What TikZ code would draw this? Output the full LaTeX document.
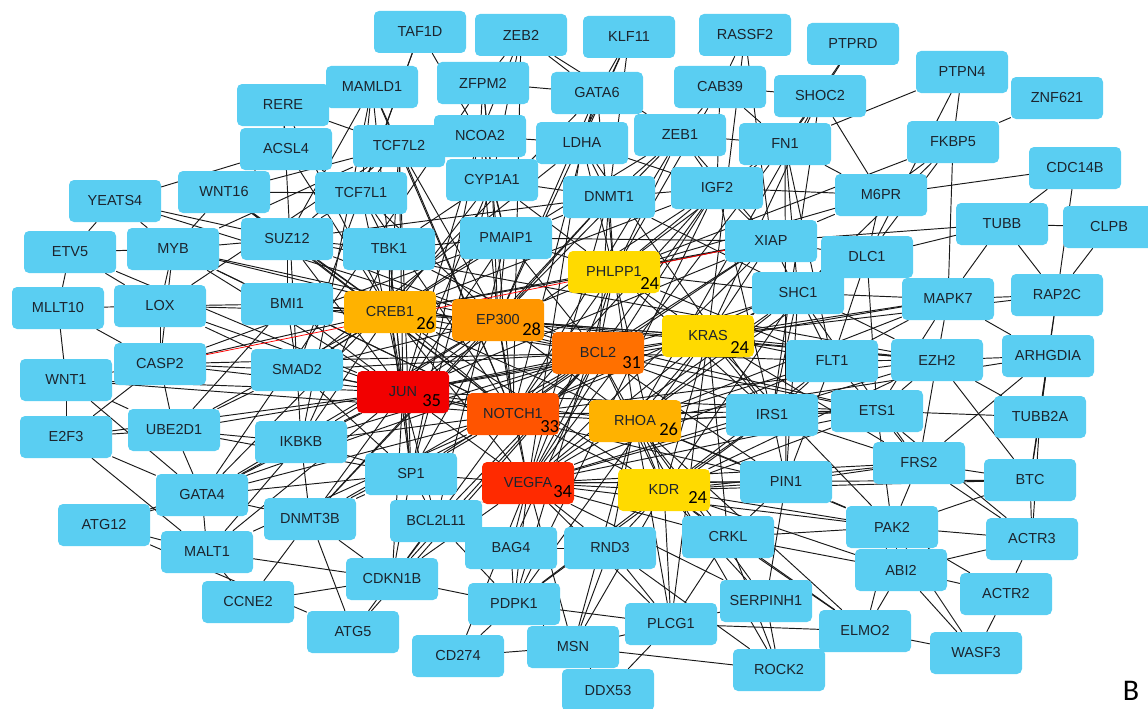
\documentclass[tikz,border=0pt]{standalone}
\usepackage{fontspec}
\setmainfont{Liberation Sans}
\newfontfamily\numfont{Carlito}
\usetikzlibrary{backgrounds}

\definecolor{geneblue}{RGB}{90,206,242}
\definecolor{genetext}{RGB}{28,36,46}
\definecolor{degA}{RGB}{242,0,0}
\definecolor{degB}{RGB}{255,42,0}
\definecolor{degC}{RGB}{255,84,0}
\definecolor{degD}{RGB}{255,112,0}
\definecolor{degE}{RGB}{255,150,0}
\definecolor{degF}{RGB}{255,178,0}
\definecolor{degG}{RGB}{255,218,0}

\begin{document}
\begin{tikzpicture}[
    x=1pt, y=-1pt,
    gene/.style={
        rectangle,
        rounded corners=5pt,
        fill=geneblue,
        text=genetext,
        minimum width=92pt,
        minimum height=42pt,
        inner sep=0pt,
        font=\fontsize{14.5}{16}\selectfont
    },
    hub/.style={gene, fill=#1},
    deg/.style={inner sep=0pt, anchor=south east, text=black, font=\numfont\fontsize{18.5}{20}\selectfont},
    ppi/.style={draw=black!90, line width=0.95pt},
    hit/.style={draw=red, line width=0.75pt}
]

\useasboundingbox (0,0) rectangle (1148,709);

% Outer genes, top part
\node[gene] (taf1d) at (420,32) {TAF1D};
\node[gene] (zeb2) at (521,35) {ZEB2};
\node[gene] (klf11) at (629,37) {KLF11};
\node[gene] (rassf2) at (745,35) {RASSF2};
\node[gene] (ptprd) at (853,44) {PTPRD};
\node[gene] (rere) at (283,105) {RERE};
\node[gene] (mamld1) at (372,87) {MAMLD1};
\node[gene] (zfpm2) at (483,83) {ZFPM2};
\node[gene] (gata6) at (597,93) {GATA6};
\node[gene] (cab39) at (720,87) {CAB39};
\node[gene] (shoc2) at (820,96) {SHOC2};
\node[gene] (ptpn4) at (962,72) {PTPN4};
\node[gene] (znf621) at (1057,98) {ZNF621};
\node[gene] (tcf7l2) at (399,146) {TCF7L2};
\node[gene] (ncoa2) at (480,136) {NCOA2};
\node[gene] (ldha) at (582,143) {LDHA};
\node[gene] (zeb1) at (680,135) {ZEB1};
\node[gene] (fn1) at (785,144) {FN1};
\node[gene] (fkbp5) at (953,142) {FKBP5};
\node[gene] (acsl4) at (286,149) {ACSL4};
\node[gene] (cyp1a1) at (492,180) {CYP1A1};
\node[gene] (dnmt1) at (609,197) {DNMT1};
\node[gene] (igf2) at (717,188) {IGF2};
\node[gene] (m6pr) at (881,195) {M6PR};
\node[gene] (cdc14b) at (1075,168) {CDC14B};
\node[gene] (yeats4) at (115,201) {YEATS4};
\node[gene] (wnt16) at (224,192) {WNT16};
\node[gene] (tcf7l1) at (361,193) {TCF7L1};
\node[gene] (tubb) at (1002,224) {TUBB};
\node[gene] (clpb) at (1109,227) {CLPB};

% Outer genes, middle part
\node[gene] (etv5) at (70,252) {ETV5};
\node[gene] (myb) at (173,249) {MYB};
\node[gene] (suz12) at (287,239) {SUZ12};
\node[gene] (tbk1) at (389,249) {TBK1};
\node[gene] (pmaip1) at (506,238) {PMAIP1};
\node[gene] (xiap) at (771,241) {XIAP};
\node[gene] (dlc1) at (867,257) {DLC1};
\node[gene] (mllt10) at (58,308) {MLLT10};
\node[gene] (lox) at (160,306) {LOX};
\node[gene] (bmi1) at (287,304) {BMI1};
\node[gene] (shc1) at (798,293) {SHC1};
\node[gene] (mapk7) at (948,299) {MAPK7};
\node[gene] (rap2c) at (1057,295) {RAP2C};
\node[gene] (casp2) at (160,364) {CASP2};
\node[gene] (smad2) at (297,370) {SMAD2};
\node[gene] (arhgdia) at (1048,356) {ARHGDIA};
\node[gene] (flt1) at (832,361) {FLT1};
\node[gene] (ezh2) at (937,360) {EZH2};
\node[gene] (wnt1) at (66,380) {WNT1};
\node[gene] (irs1) at (772,415) {IRS1};
\node[gene] (ets1) at (877,411) {ETS1};
\node[gene] (tubb2a) at (1040,417) {TUBB2A};

% Outer genes, bottom part
\node[gene] (e2f3) at (66,437) {E2F3};
\node[gene] (ube2d1) at (174,430) {UBE2D1};
\node[gene] (ikbkb) at (301,442) {IKBKB};
\node[gene] (sp1) at (411,474) {SP1};
\node[gene] (frs2) at (919,463) {FRS2};
\node[gene] (pin1) at (786,482) {PIN1};
\node[gene] (btc) at (1030,480) {BTC};
\node[gene] (gata4) at (202,495) {GATA4};
\node[gene] (atg12) at (104,525) {ATG12};
\node[gene] (dnmt3b) at (310,519) {DNMT3B};
\node[gene] (bcl2l11) at (436,521) {BCL2L11};
\node[gene] (bag4) at (511,548) {BAG4};
\node[gene] (rnd3) at (610,548) {RND3};
\node[gene] (crkl) at (728,537) {CRKL};
\node[gene] (pak2) at (892,527) {PAK2};
\node[gene] (actr3) at (1032,539) {ACTR3};
\node[gene] (malt1) at (207,552) {MALT1};
\node[gene] (cdkn1b) at (392,579) {CDKN1B};
\node[gene] (abi2) at (901,570) {ABI2};
\node[gene] (actr2) at (1006,594) {ACTR2};
\node[gene] (ccne2) at (248,602) {CCNE2};
\node[gene] (pdpk1) at (514,604) {PDPK1};
\node[gene] (serpinh1) at (766,601) {SERPINH1};
\node[gene] (atg5) at (353,632) {ATG5};
\node[gene] (msn) at (573,647) {MSN};
\node[gene] (plcg1) at (671,624) {PLCG1};
\node[gene] (elmo2) at (865,631) {ELMO2};
\node[gene] (wasf3) at (976,653) {WASF3};
\node[gene] (cd274) at (458,656) {CD274};
\node[gene] (rock2) at (779,670) {ROCK2};
\node[gene] (ddx53) at (608,690) {DDX53};

% Hub genes, coloured by degree
\node[hub=degG] (phlpp1) at (614,272) {PHLPP1};
\node[hub=degF] (creb1) at (390,312) {CREB1};
\node[hub=degE] (ep300) at (498,320) {EP300};
\node[hub=degG] (kras) at (708,336) {KRAS};
\node[hub=degD] (bcl2) at (598,353) {BCL2};
\node[hub=degA] (jun) at (403,392) {JUN};
\node[hub=degC] (notch1) at (513,414) {NOTCH1};
\node[hub=degF] (rhoa) at (635,421) {RHOA};
\node[hub=degB] (vegfa) at (528,483) {VEGFA};
\node[hub=degG] (kdr) at (664,490) {KDR};

% Degree numbers
\node[deg] (phlpp1-d) at ([xshift=-1pt, yshift=4pt]phlpp1.south east) {24};
\node[deg] (creb1-d) at ([xshift=-1pt, yshift=3pt]creb1.south east) {26};
\node[deg] (ep300-d) at ([xshift=-3pt, yshift=5pt]ep300.south east) {28};
\node[deg] (kras-d) at ([xshift=-5pt, yshift=4pt]kras.south east) {24};
\node[deg] (bcl2-d) at ([xshift=-3pt, yshift=5pt]bcl2.south east) {31};
\node[deg] (jun-d) at ([xshift=-8pt, yshift=6pt]jun.south east) {35};
\node[deg] (notch1-d) at ([xshift=0pt, yshift=2pt]notch1.south east) {33};
\node[deg] (rhoa-d) at ([xshift=-3pt, yshift=6pt]rhoa.south east) {26};
\node[deg] (vegfa-d) at ([xshift=-2pt, yshift=6pt]vegfa.south east) {34};
\node[deg] (kdr-d) at ([xshift=-3pt, yshift=8pt]kdr.south east) {24};

% Panel letter
\node[anchor=base, inner sep=0pt, font=\numfont\fontsize{30}{32}\selectfont] (panel) at (1131,700) {B};

\begin{scope}[on background layer, every edge/.style={ppi}]

% Hub interactions
\path (jun) edge (creb1) edge (ep300) edge (bcl2) edge (notch1) edge (vegfa) edge (kras) edge (rhoa)
    edge (smad2) edge (sp1) edge (ikbkb) edge (tbk1) edge (bmi1) edge (myb) edge (lox) edge (casp2)
    edge (ube2d1) edge (gata4) edge (dnmt3b) edge (bcl2l11) edge (cdkn1b) edge (malt1) edge (e2f3)
    edge (wnt1) edge (etv5) edge (tcf7l2) edge (tcf7l1) edge (suz12) edge (ncoa2) edge (cyp1a1)
    edge (pmaip1) edge (xiap) edge (ets1) edge (igf2) edge (mapk7) edge (pin1);
\path (vegfa) edge (notch1) edge (kdr) edge (flt1) edge (bcl2) edge (ep300) edge (creb1) edge (rhoa)
    edge (kras) edge (sp1) edge (irs1) edge (igf2) edge (fn1) edge (ldha) edge (dnmt1) edge (pdpk1)
    edge (plcg1) edge (crkl) edge (pak2) edge (frs2) edge (shc1) edge (ets1) edge (ezh2) edge (rnd3)
    edge (msn) edge (bag4) edge (bcl2l11) edge (cdkn1b) edge (cd274) edge (serpinh1) edge (btc)
    edge (pin1) edge (xiap) edge (phlpp1);
\path (notch1) edge (ep300) edge (creb1) edge (bcl2) edge (kras) edge (rhoa) edge (kdr) edge (phlpp1)
    edge (mamld1) edge (zeb1) edge (zeb2) edge (gata6) edge (zfpm2) edge (tcf7l2) edge (tcf7l1)
    edge (wnt16) edge (wnt1) edge (smad2) edge (bmi1) edge (myb) edge (suz12) edge (ikbkb) edge (sp1)
    edge (dnmt3b) edge (ezh2) edge (ets1) edge (dlc1) edge (igf2) edge (cdkn1b) edge (malt1)
    edge (gata4) edge (xiap);
\path (bcl2) edge (ep300) edge (creb1) edge (kras) edge (rhoa) edge (phlpp1) edge (kdr) edge (xiap)
    edge (pmaip1) edge (bcl2l11) edge (bag4) edge (casp2) edge (bmi1) edge (smad2) edge (myb)
    edge (sp1) edge (ikbkb) edge (dnmt1) edge (dnmt3b) edge (igf2) edge (cdkn1b) edge (atg5)
    edge (atg12) edge (tbk1) edge (irs1) edge (shc1) edge (flt1) edge (ets1) edge (pin1);
\path (ep300) edge (creb1) edge (rhoa) edge (kras) edge (phlpp1) edge (ncoa2) edge (smad2) edge (myb)
    edge (sp1) edge (tcf7l2) edge (tcf7l1) edge (gata4) edge (gata6) edge (ets1) edge (ezh2)
    edge (suz12) edge (dnmt1) edge (dnmt3b) edge (bmi1) edge (klf11) edge (zeb1) edge (yeats4)
    edge (ikbkb) edge (cyp1a1) edge (pmaip1);
\path (creb1) edge (rhoa) edge (kras) edge (phlpp1) edge (kdr) edge (casp2) edge (lox) edge (bmi1)
    edge (smad2) edge (sp1) edge (tbk1) edge (pmaip1) edge (cyp1a1) edge (wnt16) edge (suz12)
    edge (ube2d1) edge (ikbkb) edge (igf2) edge (xiap) edge (acsl4) edge (rere) edge (tcf7l2);
\path (rhoa) edge (kras) edge (phlpp1) edge (kdr) edge (rnd3) edge (rock2) edge (arhgdia) edge (msn)
    edge (dlc1) edge (elmo2) edge (crkl) edge (pak2) edge (plcg1) edge (irs1) edge (shc1) edge (flt1)
    edge (ets1) edge (pin1) edge (mapk7) edge (serpinh1) edge (shoc2);
\path (kras) edge (phlpp1) edge (kdr) edge (shoc2) edge (rassf2) edge (shc1) edge (irs1) edge (flt1)
    edge (mapk7) edge (rap2c) edge (pdpk1) edge (plcg1) edge (crkl) edge (frs2) edge (pak2)
    edge (dlc1) edge (xiap) edge (ezh2);
\path (phlpp1) edge (kdr) edge (pdpk1) edge (irs1) edge (igf2) edge (xiap) edge (dnmt1) edge (ldha)
    edge (fkbp5) edge (cab39) edge (zeb1) edge (fn1) edge (m6pr) edge (shc1) edge (flt1)
    edge (pmaip1) edge (cyp1a1) edge (gata6);
\path (kdr) edge (flt1) edge (plcg1) edge (shc1) edge (crkl) edge (pak2) edge (frs2) edge (irs1)
    edge (pin1) edge (rnd3) edge (serpinh1) edge (ets1) edge (ezh2) edge (btc) edge (abi2)
    edge (pdpk1) edge (msn) edge (elmo2);

% Other interactions
\path (taf1d) edge (ncoa2) edge (tcf7l1) edge (smad2);
\path (zeb2) edge (gata6) edge (zfpm2) edge (ncoa2) edge (cyp1a1) edge (zeb1);
\path (klf11) edge (gata6) edge (ldha) edge (dnmt1);
\path (rassf2) edge (cab39) edge (xiap);
\path (ptprd) edge (shoc2) edge (fn1);
\path (mamld1) edge (tcf7l2) edge (tcf7l1) edge (tbk1) edge (suz12) edge (ikbkb);
\path (zfpm2) edge (gata6) edge (ncoa2) edge (gata4) edge (cyp1a1);
\path (gata6) edge (ldha) edge (gata4) edge (zeb1);
\path (cab39) edge (shoc2) edge (zeb1) edge (igf2) edge (fn1);
\path (shoc2) edge (fn1) edge (m6pr) edge (irs1);
\path (ptpn4) edge (fkbp5) edge (fn1) edge (dlc1);
\path (znf621) edge (fkbp5);
\path (fkbp5) edge (m6pr) edge (mapk7) edge (shc1) edge (dlc1);
\path (rere) edge (acsl4) edge (tcf7l2) edge (smad2);
\path (ncoa2) edge (cyp1a1) edge (tcf7l2) edge (ldha) edge (sp1) edge (pmaip1);
\path (ldha) edge (dnmt1) edge (igf2) edge (irs1) edge (smad2);
\path (zeb1) edge (dnmt1) edge (igf2) edge (fn1) edge (xiap) edge (smad2);
\path (fn1) edge (igf2) edge (m6pr) edge (shc1) edge (flt1) edge (pin1);
\path (acsl4) edge (yeats4) edge (tcf7l1) edge (wnt16);
\path (tcf7l2) edge (wnt16) edge (tcf7l1) edge (suz12) edge (myb) edge (sp1) edge (lox);
\path (cyp1a1) edge (dnmt1) edge (pmaip1) edge (tbk1) edge (sp1);
\path (dnmt1) edge (igf2) edge (pmaip1) edge (dnmt3b) edge (ezh2) edge (suz12);
\path (igf2) edge (xiap) edge (irs1) edge (pdpk1) edge (m6pr);
\path (m6pr) edge (cdc14b) edge (xiap) edge (dlc1);
\path (cdc14b) edge (tubb) edge (rap2c);
\path (yeats4) edge (etv5) edge (suz12) edge (myb);
\path (wnt16) edge (tcf7l1) edge (myb) edge (suz12);
\path (tcf7l1) edge (suz12) edge (tbk1);
\path (tubb) edge (clpb) edge (mapk7) edge (rap2c) edge (dlc1) edge (xiap);
\path (clpb) edge (rap2c);
\path (etv5) edge (myb) edge (mllt10) edge (lox);
\path (myb) edge (lox) edge (suz12) edge (bmi1) edge (casp2);
\path (suz12) edge (bmi1) edge (ezh2) edge (tbk1);
\path (tbk1) edge (pmaip1) edge (ikbkb) edge (sp1);
\path (pmaip1) edge (xiap) edge (bcl2l11) edge (casp2);
\path (xiap) edge (dlc1) edge (shc1);
\path (dlc1) edge (mapk7) edge (shc1) edge (flt1) edge (ets1);
\path (mllt10) edge (lox) edge (casp2) edge (wnt1);
\path (lox) edge (casp2) edge (bmi1) edge (smad2);
\path (bmi1) edge (smad2) edge (ezh2) edge (ube2d1);
\path (shc1) edge (mapk7) edge (flt1) edge (irs1) edge (pin1) edge (frs2);
\path (mapk7) edge (rap2c) edge (ezh2) edge (arhgdia) edge (flt1) edge (ets1);
\path (rap2c) edge (arhgdia) edge (tubb2a);
\path (casp2) edge (wnt1) edge (ube2d1) edge (smad2) edge (e2f3);
\path (smad2) edge (ikbkb) edge (sp1) edge (ube2d1);
\path (arhgdia) edge (ezh2) edge (tubb2a) edge (frs2) edge (btc);
\path (flt1) edge (ezh2) edge (ets1) edge (irs1) edge (pin1);
\path (ezh2) edge (ets1) edge (btc) edge (tubb2a) edge (frs2);
\path (wnt1) edge (e2f3) edge (ube2d1) edge (gata4);
\path (irs1) edge (ets1) edge (pin1) edge (pdpk1) edge (frs2);
\path (ets1) edge (frs2) edge (tubb2a) edge (pak2) edge (actr3);
\path (tubb2a) edge (actr3) edge (btc);
\path (e2f3) edge (gata4) edge (malt1) edge (ube2d1);
\path (ube2d1) edge (ikbkb) edge (gata4) edge (sp1);
\path (ikbkb) edge (sp1) edge (gata4) edge (dnmt3b) edge (malt1);
\path (sp1) edge (dnmt3b) edge (bcl2l11) edge (cdkn1b) edge (gata4);
\path (frs2) edge (pak2) edge (btc) edge (actr3) edge (pin1);
\path (pin1) edge (crkl) edge (pak2) edge (serpinh1);
\path (btc) edge (actr3) edge (pak2);
\path (gata4) edge (malt1) edge (atg12) edge (dnmt3b);
\path (atg12) edge (malt1) edge (atg5);
\path (dnmt3b) edge (ccne2) edge (atg5) edge (cdkn1b);
\path (bcl2l11) edge (bag4) edge (cdkn1b) edge (pdpk1);
\path (bag4) edge (pdpk1) edge (rnd3);
\path (rnd3) edge (msn) edge (plcg1) edge (rock2);
\path (crkl) edge (plcg1) edge (pak2) edge (elmo2) edge (abi2) edge (rock2);
\path (pak2) edge (abi2) edge (actr2) edge (actr3) edge (elmo2) edge (wasf3);
\path (actr3) edge (actr2) edge (abi2);
\path (malt1) edge (ccne2) edge (cdkn1b);
\path (cdkn1b) edge (ccne2) edge (atg5) edge (pdpk1);
\path (abi2) edge (actr2) edge (wasf3) edge (elmo2);
\path (actr2) edge (wasf3);
\path (pdpk1) edge (cd274) edge (msn) edge (plcg1);
\path (serpinh1) edge (plcg1) edge (rock2);
\path (msn) edge (rock2) edge (ddx53) edge (plcg1);
\path (plcg1) edge (elmo2);
\path (elmo2) edge (wasf3) edge (rock2);
\path (cd274) edge (msn);
\path (ddx53) edge (plcg1);

% Highlighted interaction
\draw[hit] (casp2) -- (xiap);

\end{scope}

\end{tikzpicture}
\end{document}
